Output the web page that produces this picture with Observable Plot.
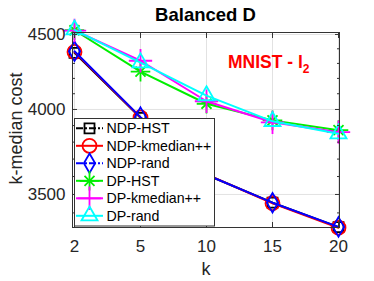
<!DOCTYPE html>
<html>
<head>
<meta charset="utf-8">
<script src="https://cdn.jsdelivr.net/npm/d3@7"></script>
<script src="https://cdn.jsdelivr.net/npm/@observablehq/plot@0.6"></script>
<style>
  html, body { margin: 0; padding: 0; background: white; }
</style>
</head>
<body>
<div id="chart"></div>
<script>
// ---- data ----
const ks = [2, 5, 10, 15, 20];
const seriesNames = ["NDP-HST", "NDP-kmedian++", "NDP-rand", "DP-HST", "DP-kmedian++", "DP-rand"];
const ndpHst  = [4372, 3948, 3610, 3455, 3325];
const ndpKmed = [4378, 3950, 3612, 3452, 3322];
const ndpRand = [4383, 3952, 3610, 3455, 3326];
const dpHst   = [4530, 4245, 4036, 3932, 3872];
const dpKmed  = [4528, 4318, 4052, 3920, 3860];
const dpRand  = [4533, 4305, 4088, 3926, 3850];
const yMajor = [3500, 4000, 4500];
const yMinor = [3400, 3600, 3700, 3800, 3900, 4100, 4200, 4300, 4400];
const titleText = "Balanced D";
const xLabel = "k";
const yLabel = "k-median cost";

// ---- styles ----
const seriesValues = [ndpHst, ndpKmed, ndpRand, dpHst, dpKmed, dpRand];
const colors = ["#000000", "#ff0000", "#0000ff", "#00ee00", "#ff00ff", "#00ffff"];
const symbols = [
  [{type: d3.symbolSquare, size: 100}],
  [{type: d3.symbolCircle, size: 154}],
  [{type: d3.symbolDiamond, size: 110}],
  [{type: d3.symbolPlus, size: 127}, {type: d3.symbolTimes, size: 67}],
  [{type: d3.symbolPlus, size: 180}],
  [{type: d3.symbolTriangle, size: 112}]
];
const legendDash = ["7,2,2,2", null, "7,2,2,2", null, null, null];
const font = "'Liberation Sans', Arial, Helvetica, sans-serif";
const axisColor = "#333333";
const gridColor = "#e2e2e2";

const marks = [
  Plot.ruleX(ks, {x: d => d, stroke: gridColor, strokeWidth: 1}),
  Plot.ruleY(yMajor, {y: d => d, stroke: gridColor, strokeWidth: 1})
];
seriesValues.forEach((vals, s) => {
  const data = ks.map((k, i) => ({k, v: vals[i]}));
  marks.push(Plot.line(data, {x: "k", y: "v", stroke: colors[s], strokeWidth: 2}));
  symbols[s].forEach(sym => {
    marks.push(Plot.dot(data, {
      x: "k", y: "v",
      symbol: sym.type, r: Math.sqrt(sym.size / Math.PI),
      stroke: colors[s], fill: "none", strokeWidth: 1.8
    }));
  });
});
marks.push(
  Plot.frame({stroke: axisColor, strokeWidth: 1}),
  // inward ticks
  Plot.axisY({anchor: "left", ticks: yMajor, tickSize: 5, dx: 5, text: null, label: null, stroke: axisColor}),
  Plot.axisY({anchor: "left", ticks: yMinor, tickSize: 3, dx: 3, text: null, label: null, stroke: axisColor}),
  Plot.axisY({anchor: "right", ticks: yMajor, tickSize: 5, dx: -5, text: null, label: null, stroke: axisColor}),
  Plot.axisY({anchor: "right", ticks: yMinor, tickSize: 3, dx: -3, text: null, label: null, stroke: axisColor}),
  Plot.axisX({anchor: "bottom", ticks: ks, tickSize: 5, dy: -5, text: null, label: null, stroke: axisColor}),
  Plot.axisX({anchor: "top", ticks: ks, tickSize: 5, dy: 5, text: null, label: null, stroke: axisColor}),
  // tick labels
  Plot.axisY({anchor: "left", ticks: yMajor, tickSize: 0, tickPadding: 7, fontSize: 17,
              tickFormat: d => String(d), label: null, fill: "#262626"}),
  Plot.axisX({anchor: "bottom", ticks: ks, tickSize: 0, tickPadding: 12.5, fontSize: 17,
              tickFormat: d => String(d), label: null, fill: "#262626"})
);

const chart = Plot.plot({
  width: 374,
  height: 281,
  marginLeft: 72,
  marginRight: 35,
  marginTop: 32,
  marginBottom: 54,
  style: {fontFamily: font, background: "white", color: "#262626", overflow: "visible"},
  x: {type: "point", domain: ks, padding: 0, axis: null},
  y: {type: "log", domain: [3323, 4514], axis: null},
  marks
});

const svg = d3.select(chart);

// title
svg.append("text").attr("x", 205.5).attr("y", 21).attr("text-anchor", "middle")
  .attr("font-family", font).attr("font-weight", "bold").attr("font-size", 18.5)
  .attr("fill", "#000").text(titleText);

// axis labels
svg.append("text").attr("x", 206).attr("y", 275).attr("text-anchor", "middle")
  .attr("font-family", font).attr("font-size", 18).attr("fill", "#262626").text(xLabel);
svg.append("text").attr("transform", "translate(21.5,128.5) rotate(-90)").attr("text-anchor", "middle")
  .attr("font-family", font).attr("font-size", 18).attr("fill", "#262626").text(yLabel);

// annotation
const ann = svg.append("text").attr("x", 228).attr("y", 68).attr("text-anchor", "start")
  .attr("font-family", font).attr("font-weight", "bold").attr("font-size", 17.5).attr("fill", "#ff0000");
ann.append("tspan").text("MNIST - l");
ann.append("tspan").attr("font-size", 12).attr("dy", 5).text("2");

// legend
const lg = svg.append("g");
lg.append("rect").attr("x", 74.5).attr("y", 118.5).attr("width", 140).attr("height", 107.5)
  .attr("fill", "white").attr("stroke", axisColor).attr("stroke-width", 1);
seriesNames.forEach((name, s) => {
  const cy = 128.3 + 17.5 * s;
  lg.append("line").attr("x1", 76).attr("x2", 103).attr("y1", cy).attr("y2", cy)
    .attr("stroke", colors[s]).attr("stroke-width", 2)
    .attr("stroke-dasharray", legendDash[s]);
  symbols[s].forEach(sym => {
    lg.append("path").attr("transform", `translate(89.5,${cy})`)
      .attr("d", d3.symbol().type(sym.type).size(sym.size)())
      .attr("fill", "none").attr("stroke", colors[s]).attr("stroke-width", 1.8);
  });
  lg.append("text").attr("x", 106.5).attr("y", cy).attr("dy", "0.35em").attr("text-anchor", "start")
    .attr("font-family", font).attr("font-size", 14.2).attr("fill", "#000").text(name);
});

document.getElementById("chart").appendChild(chart);
</script>
</body>
</html>
